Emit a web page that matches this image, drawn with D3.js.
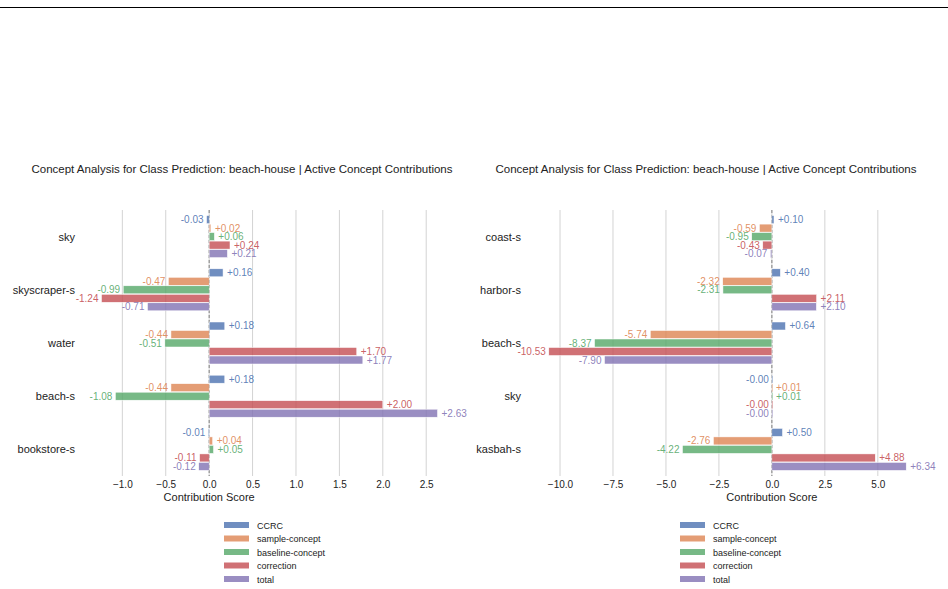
<!DOCTYPE html>
<html><head><meta charset="utf-8">
<script src="https://cdn.jsdelivr.net/npm/d3@7"></script>
<style>body{margin:0;background:#fff}text{font-family:"Liberation Sans",Arial,sans-serif}</style>
</head><body><svg id="c" width="948" height="589"></svg>
<script>
const series = ["CCRC","sample-concept","baseline-concept","correction","total"];
const colors = ["#4c72b0","#dd8452","#55a868","#c44e52","#8172b3"];
const leftCats = ["sky","skyscraper-s","water","beach-s","bookstore-s"];
const leftVals = [
  [-0.03,0.02,0.06,0.24,0.21],
  [0.16,-0.47,-0.99,-1.24,-0.71],
  [0.18,-0.44,-0.51,1.70,1.77],
  [0.18,-0.44,-1.08,2.00,2.63],
  [-0.01,0.04,0.05,-0.11,-0.12]];
const leftTicks = [-1.0,-0.5,0.0,0.5,1.0,1.5,2.0,2.5];
const rightCats = ["coast-s","harbor-s","beach-s","sky","kasbah-s"];
const rightVals = [
  [0.10,-0.59,-0.95,-0.43,-0.07],
  [0.40,-2.32,-2.31,2.11,2.10],
  [0.64,-5.74,-8.37,-10.53,-7.90],
  [-0.001,0.01,0.01,-0.001,-0.001],
  [0.50,-2.76,-4.22,4.88,6.34]];
const rightTicks = [-10.0,-7.5,-5.0,-2.5,0.0,2.5,5.0];
const title = "Concept Analysis for Class Prediction: beach-house | Active Concept Contributions";

const svg = d3.select("#c");
svg.append("line").attr("x1",0).attr("x2",948).attr("y1",7.5).attr("y2",7.5).attr("stroke","#000").attr("stroke-width",1);

function panel(cats, vals, ticks, dom, x0, x1, titleX, legX){
  const g = svg.append("g");
  const x = d3.scaleLinear().domain(dom).range([x0,x1]);
  const y = d3.scaleBand().domain(cats).range([210,476]);
  const sub = d3.scaleBand().domain(d3.range(5)).range([-21,21]).paddingInner(0.06);
  g.selectAll(".grid").data(ticks).join("line").attr("x1",d=>x(d)).attr("x2",d=>x(d))
    .attr("y1",210).attr("y2",476).attr("stroke","#d3d3d3").attr("stroke-width",1);
  g.append("line").attr("x1",x(0)).attr("x2",x(0)).attr("y1",210).attr("y2",476)
    .attr("stroke","#777").attr("stroke-dasharray","3,2").attr("stroke-width",0.9);
  cats.forEach((c,i)=>{
    const cy = y(c)+y.bandwidth()/2;
    vals[i].forEach((v,j)=>{
      const by = cy+sub(j);
      g.append("rect").attr("x",Math.min(x(0),x(v))).attr("width",Math.max(Math.abs(x(v)-x(0)),1))
        .attr("y",by).attr("height",sub.bandwidth()).attr("fill",colors[j]).attr("fill-opacity",0.8)
        .attr("stroke","#fff").attr("stroke-width",0.5);
      const pos = v>0;
      const s = (v>=0?"+":"-")+Math.abs(v).toFixed(2);
      g.append("text").attr("x",x(v)+(pos?4:-3)).attr("y",by+sub.bandwidth()/2+3.5)
        .attr("text-anchor",pos?"start":"end").attr("font-size",10).attr("fill",colors[j]).attr("fill-opacity",0.9).text(s);
    });
    g.append("text").attr("x",x(dom[0])-10).attr("y",cy+4).attr("text-anchor","end")
      .attr("font-size",11).attr("fill","#222").text(c);
  });
  const ax = g.append("g").attr("transform","translate(0,476)")
    .call(d3.axisBottom(x).tickValues(ticks).tickFormat(d=>d.toFixed(1).replace("-","\u2212")).tickSize(0).tickPadding(5));
  ax.select(".domain").remove();
  ax.selectAll("text").attr("font-size",10).attr("fill","#222").style("font-family","Liberation Sans, Arial");
  g.append("text").attr("x",x(0)).attr("y",501).attr("text-anchor","middle").attr("font-size",11).attr("fill","#222").text("Contribution Score");
  g.append("text").attr("x",titleX).attr("y",173).attr("text-anchor","middle").attr("font-size",11.5).attr("fill","#222").text(title);
  series.forEach((s,j)=>{
    const ly = 525+j*13.5;
    g.append("rect").attr("x",legX).attr("y",ly-3).attr("width",25).attr("height",6).attr("fill",colors[j]).attr("fill-opacity",0.8);
    g.append("text").attr("x",legX+33).attr("y",ly+3.5).attr("font-size",9).attr("fill","#222").text(s);
  });
}
panel(leftCats,leftVals,leftTicks,[-1.43,2.82],85,454,242,224);
panel(rightCats,rightVals,rightTicks,[-11.37,7.18],531,924,706,680);
</script></body></html>
